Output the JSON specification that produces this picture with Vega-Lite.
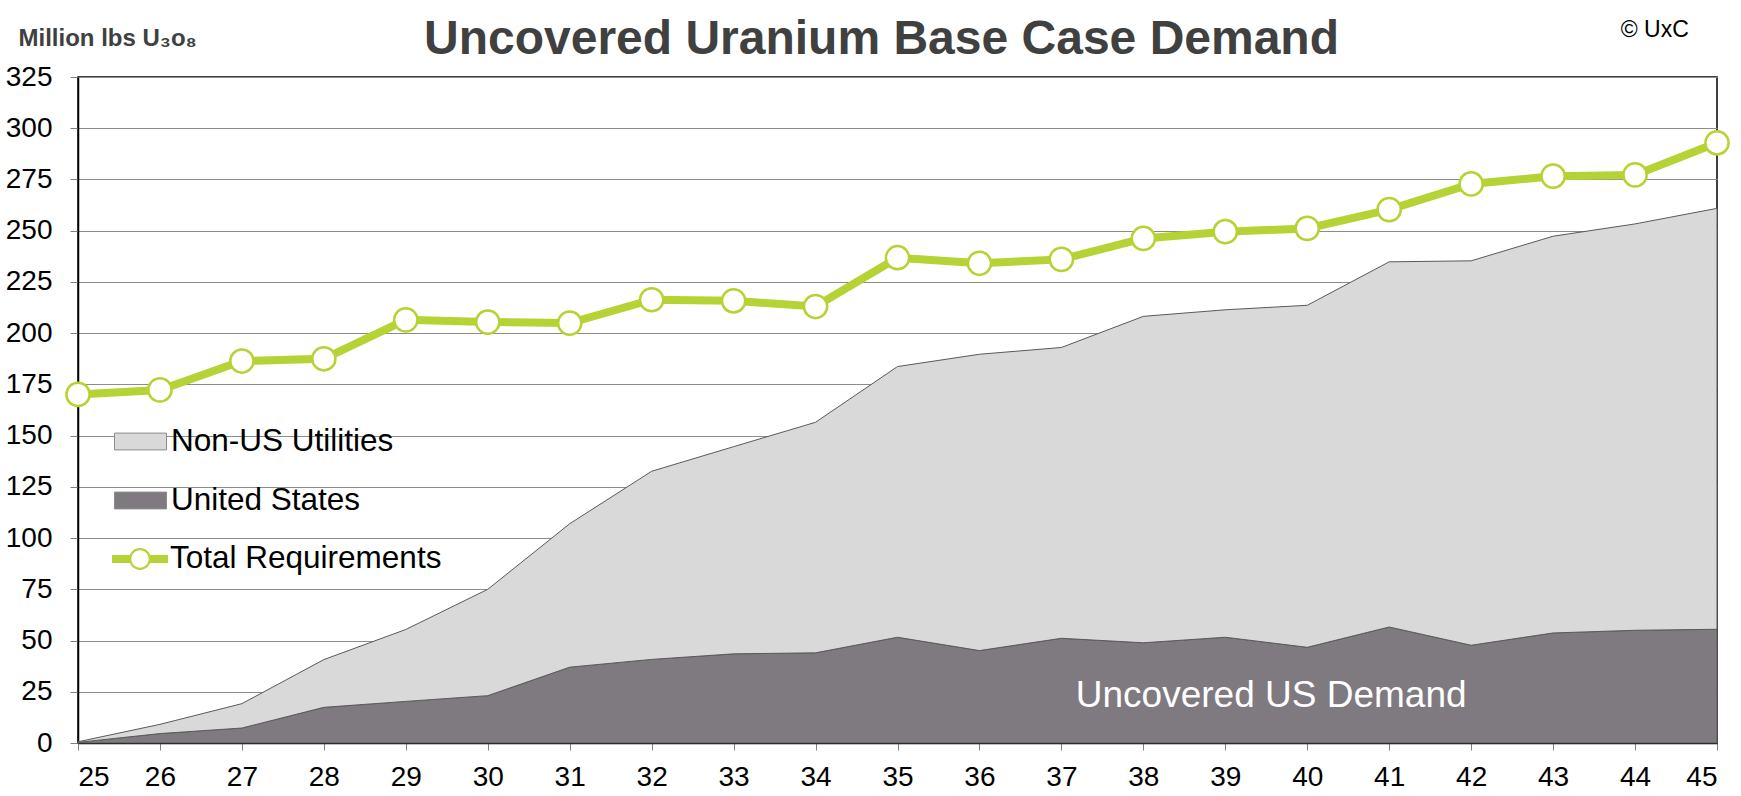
{
  "$schema": "https://vega.github.io/schema/vega-lite/v6.json",
  "width": 1639,
  "height": 666,
  "autosize": {"type": "none"},
  "padding": {"left": 78, "top": 77, "right": 24, "bottom": 53},
  "background": "white",
  "config": {
    "font": "Liberation Sans",
    "view": {"stroke": "#000000", "strokeWidth": 1.5},
    "axis": {
      "labelFont": "Liberation Sans",
      "labelFontSize": 28,
      "labelColor": "#000000",
      "tickColor": "#808080",
      "tickWidth": 1,
      "domainColor": "#000000",
      "domainWidth": 1.5,
      "gridColor": "#8c8c8c",
      "gridWidth": 1
    },
    "legend": {
      "orient": "none",
      "title": null,
      "padding": 0,
      "rowPadding": -3,
      "symbolSize": 3136,
      "labelFont": "Liberation Sans",
      "labelFontSize": 31.5,
      "labelColor": "#000000",
      "labelOffset": 2,
      "labelLimit": 0
    }
  },
  "title": {
    "text": "Uncovered Uranium Base Case Demand",
    "font": "Liberation Sans",
    "fontSize": 48,
    "fontWeight": "bold",
    "color": "#404040",
    "anchor": "middle",
    "frame": "group",
    "dx": -16,
    "baseline": "alphabetic",
    "offset": -83
  },
  "datasets": {
    "areas": [
      {"year": 25, "series": "United States", "value": 0.3},
      {"year": 26, "series": "United States", "value": 4.6},
      {"year": 27, "series": "United States", "value": 7.3},
      {"year": 28, "series": "United States", "value": 17.4},
      {"year": 29, "series": "United States", "value": 20.3},
      {"year": 30, "series": "United States", "value": 23.1},
      {"year": 31, "series": "United States", "value": 37.0},
      {"year": 32, "series": "United States", "value": 40.8},
      {"year": 33, "series": "United States", "value": 43.5},
      {"year": 34, "series": "United States", "value": 44.0},
      {"year": 35, "series": "United States", "value": 51.6},
      {"year": 36, "series": "United States", "value": 45.1},
      {"year": 37, "series": "United States", "value": 51.1},
      {"year": 38, "series": "United States", "value": 48.9},
      {"year": 39, "series": "United States", "value": 51.6},
      {"year": 40, "series": "United States", "value": 46.7},
      {"year": 41, "series": "United States", "value": 56.6},
      {"year": 42, "series": "United States", "value": 47.7},
      {"year": 43, "series": "United States", "value": 53.7},
      {"year": 44, "series": "United States", "value": 55.0},
      {"year": 45, "series": "United States", "value": 55.5},
      {"year": 25, "series": "Non-US Utilities", "value": 0.3},
      {"year": 26, "series": "Non-US Utilities", "value": 4.5},
      {"year": 27, "series": "Non-US Utilities", "value": 11.9},
      {"year": 28, "series": "Non-US Utilities", "value": 23.3},
      {"year": 29, "series": "Non-US Utilities", "value": 35.1},
      {"year": 30, "series": "Non-US Utilities", "value": 51.9},
      {"year": 31, "series": "Non-US Utilities", "value": 70.0},
      {"year": 32, "series": "Non-US Utilities", "value": 91.8},
      {"year": 33, "series": "Non-US Utilities", "value": 101.1},
      {"year": 34, "series": "Non-US Utilities", "value": 112.5},
      {"year": 35, "series": "Non-US Utilities", "value": 132.1},
      {"year": 36, "series": "Non-US Utilities", "value": 144.6},
      {"year": 37, "series": "Non-US Utilities", "value": 141.9},
      {"year": 38, "series": "Non-US Utilities", "value": 159.3},
      {"year": 39, "series": "Non-US Utilities", "value": 159.8},
      {"year": 40, "series": "Non-US Utilities", "value": 166.9},
      {"year": 41, "series": "Non-US Utilities", "value": 178.2},
      {"year": 42, "series": "Non-US Utilities", "value": 187.6},
      {"year": 43, "series": "Non-US Utilities", "value": 193.6},
      {"year": 44, "series": "Non-US Utilities", "value": 198.3},
      {"year": 45, "series": "Non-US Utilities", "value": 205.4}
    ],
    "total": [
      {"year": 25, "series": "Total Requirements", "value": 170.1},
      {"year": 26, "series": "Total Requirements", "value": 172.3},
      {"year": 27, "series": "Total Requirements", "value": 186.4},
      {"year": 28, "series": "Total Requirements", "value": 187.5},
      {"year": 29, "series": "Total Requirements", "value": 206.5},
      {"year": 30, "series": "Total Requirements", "value": 205.4},
      {"year": 31, "series": "Total Requirements", "value": 204.9},
      {"year": 32, "series": "Total Requirements", "value": 216.3},
      {"year": 33, "series": "Total Requirements", "value": 215.8},
      {"year": 34, "series": "Total Requirements", "value": 213.0},
      {"year": 35, "series": "Total Requirements", "value": 236.8},
      {"year": 36, "series": "Total Requirements", "value": 234.1},
      {"year": 37, "series": "Total Requirements", "value": 236.0},
      {"year": 38, "series": "Total Requirements", "value": 246.2},
      {"year": 39, "series": "Total Requirements", "value": 249.5},
      {"year": 40, "series": "Total Requirements", "value": 251.1},
      {"year": 41, "series": "Total Requirements", "value": 260.3},
      {"year": 42, "series": "Total Requirements", "value": 272.8},
      {"year": 43, "series": "Total Requirements", "value": 276.6},
      {"year": 44, "series": "Total Requirements", "value": 277.2},
      {"year": 45, "series": "Total Requirements", "value": 292.9}
    ]
  },
  "layer": [
    {
      "data": {"name": "areas"},
      "mark": {"type": "area", "stroke": "#5a5a5a", "strokeWidth": 1},
      "encoding": {
        "x": {
          "field": "year",
          "type": "quantitative",
          "scale": {"domain": [25, 45], "nice": false, "zero": false},
          "axis": {
            "title": null,
            "values": [25,26,27,28,29,30,31,32,33,34,35,36,37,38,39,40,41,42,43,44,45],
            "format": "d",
            "grid": false,
            "tickSize": 7,
            "labelPadding": 13
          }
        },
        "y": {
          "field": "value",
          "type": "quantitative",
          "stack": "zero",
          "scale": {"domain": [0, 325], "nice": false},
          "axis": {
            "values": [0,25,50,75,100,125,150,175,200,225,250,275,300,325],
            "title": "Million lbs U₃o₈",
            "titleAngle": 0,
            "titleAlign": "left",
            "titleBaseline": "alphabetic",
            "titleX": -60,
            "titleY": -32,
            "titleFont": "Liberation Sans",
            "titleFontSize": 24,
            "titleFontWeight": "bold",
            "titleColor": "#404040",
            "tickSize": 8,
            "labelPadding": 18,
            "grid": true
          }
        },
        "fill": {
          "field": "series",
          "type": "nominal",
          "scale": {
            "domain": ["Non-US Utilities", "United States"],
            "range": ["#d9d9d9", "#7f7a7f"]
          },
          "legend": {
            "legendX": 34,
            "legendY": 336,
            "rowPadding": 15,
            "symbolType": "M-0.93,-0.3H0.93V0.3H-0.93Z",
            "symbolStrokeColor": "#8c8c8c",
            "symbolStrokeWidth": 1,
            "symbolOpacity": 1
          }
        },
        "order": {"field": "series", "sort": "descending"}
      }
    },
    {
      "data": {"name": "total"},
      "mark": {"type": "line", "strokeWidth": 8},
      "encoding": {
        "x": {"field": "year", "type": "quantitative"},
        "y": {"field": "value", "type": "quantitative"},
        "stroke": {
          "field": "series",
          "type": "nominal",
          "scale": {"domain": ["Total Requirements"], "range": ["#b5d334"]},
          "legend": {
            "legendX": 34,
            "legendY": 454,
            "symbolType": "M-1,-0.14H-0.36V0.14H-1Z M0.36,-0.14H1V0.14H0.36Z M0.39,0A0.39,0.39 0 1 1 -0.39,0A0.39,0.39 0 1 1 0.39,0Z M0.31,0A0.31,0.31 0 1 0 -0.31,0A0.31,0.31 0 1 0 0.31,0Z",
            "symbolFillColor": "#b5d334",
            "symbolStrokeWidth": 0,
            "symbolOpacity": 1
          }
        }
      }
    },
    {
      "data": {"name": "total"},
      "mark": {"type": "point", "shape": "circle", "filled": true, "fill": "#ffffff", "stroke": "#b5d334", "strokeWidth": 2.5, "size": 540, "opacity": 1},
      "encoding": {
        "x": {"field": "year", "type": "quantitative"},
        "y": {"field": "value", "type": "quantitative"}
      }
    },
    {
      "data": {"values": [{}]},
      "mark": {"type": "text", "text": "Uncovered US Demand", "font": "Liberation Sans", "fontSize": 37, "color": "#ffffff", "align": "center", "baseline": "alphabetic"},
      "encoding": {
        "x": {"datum": 39.56, "type": "quantitative"},
        "y": {"datum": 17.6, "type": "quantitative"}
      }
    },
    {
      "data": {"values": [{}]},
      "mark": {"type": "text", "text": "© UxC", "font": "Liberation Sans", "fontSize": 23, "color": "#000000", "align": "center", "baseline": "alphabetic", "clip": false},
      "encoding": {
        "x": {"datum": 44.24, "type": "quantitative"},
        "y": {"datum": 344.3, "type": "quantitative"}
      }
    }
  ]
}
